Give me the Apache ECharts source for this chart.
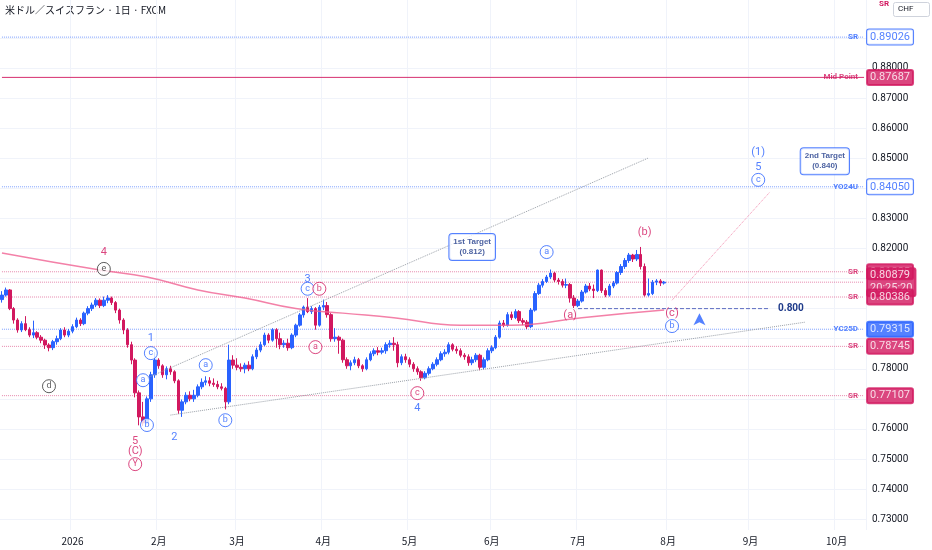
<!DOCTYPE html>
<html>
<head>
<meta charset="utf-8">
<script src="https://cdn.jsdelivr.net/npm/echarts@6/dist/echarts.min.js"></script>
<style>
  html, body { margin: 0; padding: 0; background: #fff; }
  #demo { width: 932px; height: 550px; }
</style>
</head>
<body>
<div id="demo"></div>
<script>
// 日足 [open, close, low, high]  2025-12-08 から
var candles = [
  [0.8030,0.8045,0.8020,0.8058],[0.8045,0.8062,0.8040,0.8070],[0.8062,0.8000,0.7995,0.8065],[0.8000,0.7962,0.7950,0.8005],
  [0.7962,0.7929,0.7920,0.7968],[0.7929,0.7950,0.7922,0.7958],[0.7950,0.7930,0.7925,0.7975],[0.7930,0.7912,0.7905,0.7938],
  [0.7912,0.7920,0.7902,0.7960],[0.7920,0.7905,0.7898,0.7925],[0.7905,0.7895,0.7885,0.7912],[0.7895,0.7879,0.7866,0.7900],
  [0.7879,0.7870,0.7858,0.7885],[0.7870,0.7890,0.7862,0.7896],[0.7890,0.7900,0.7880,0.7910],[0.7900,0.7929,0.7895,0.7935],
  [0.7929,0.7912,0.7905,0.7938],
  // 1月
  [0.7912,0.7925,0.7905,0.7932],[0.7925,0.7940,0.7918,0.7948],[0.7940,0.7962,0.7935,0.7970],[0.7962,0.7950,0.7942,0.7968],
  [0.7950,0.7985,0.7945,0.7990],[0.7985,0.8000,0.7978,0.8008],[0.8000,0.8012,0.7992,0.8020],[0.8012,0.8028,0.8005,0.8035],
  [0.8028,0.8010,0.8002,0.8034],[0.8010,0.8028,0.8005,0.8040],[0.8028,0.8035,0.8018,0.8045],[0.8035,0.8020,0.8012,0.8040],
  [0.8020,0.7995,0.7985,0.8025],[0.7995,0.7962,0.7950,0.8000],[0.7962,0.7929,0.7915,0.7968],[0.7929,0.7880,0.7870,0.7935],
  [0.7880,0.7829,0.7815,0.7890],[0.7829,0.7720,0.7705,0.7835],[0.7720,0.7640,0.7612,0.7728],[0.7640,0.7620,0.7610,0.7690],
  [0.7620,0.7700,0.7615,0.7708],[0.7700,0.7780,0.7690,0.7790],
  // 2月
  [0.7780,0.7829,0.7770,0.7855],[0.7829,0.7810,0.7800,0.7835],[0.7810,0.7780,0.7770,0.7815],[0.7780,0.7800,0.7765,0.7808],
  [0.7800,0.7790,0.7780,0.7810],[0.7790,0.7760,0.7752,0.7795],[0.7760,0.7662,0.7650,0.7765],[0.7662,0.7690,0.7640,0.7698],
  [0.7690,0.7712,0.7682,0.7722],[0.7712,0.7700,0.7692,0.7725],[0.7700,0.7712,0.7690,0.7730],[0.7712,0.7740,0.7705,0.7748],
  [0.7740,0.7755,0.7732,0.7768],[0.7755,0.7760,0.7745,0.7775],[0.7760,0.7752,0.7742,0.7772],[0.7752,0.7748,0.7740,0.7768],
  [0.7748,0.7740,0.7732,0.7760],[0.7740,0.7735,0.7728,0.7752],[0.7735,0.7690,0.7665,0.7740],[0.7690,0.7829,0.7682,0.7880],
  // 3月
  [0.7829,0.7812,0.7800,0.7845],[0.7812,0.7805,0.7795,0.7835],[0.7805,0.7800,0.7790,0.7818],[0.7800,0.7812,0.7785,0.7820],
  [0.7812,0.7800,0.7792,0.7825],[0.7800,0.7840,0.7795,0.7848],[0.7840,0.7862,0.7832,0.7870],[0.7862,0.7880,0.7855,0.7890],
  [0.7880,0.7912,0.7875,0.7920],[0.7912,0.7895,0.7885,0.7918],[0.7895,0.7930,0.7890,0.7935],[0.7930,0.7900,0.7870,0.7935],
  [0.7900,0.7880,0.7865,0.7920],[0.7880,0.7885,0.7870,0.7895],[0.7885,0.7870,0.7860,0.7900],[0.7870,0.7912,0.7865,0.7918],
  [0.7912,0.7945,0.7905,0.7950],[0.7945,0.7979,0.7940,0.7985],[0.7979,0.8005,0.7970,0.8010],[0.8005,0.7990,0.7985,0.8035],
  [0.7990,0.8000,0.7982,0.8008],[0.8000,0.7945,0.7930,0.8005],
  // 4月
  [0.7945,0.8005,0.7940,0.8012],[0.8005,0.8010,0.7995,0.8030],[0.8010,0.7980,0.7970,0.8022],[0.7980,0.7900,0.7890,0.7985],
  [0.7900,0.7905,0.7890,0.7935],[0.7905,0.7895,0.7850,0.7910],[0.7895,0.7830,0.7820,0.7900],[0.7830,0.7810,0.7800,0.7838],
  [0.7810,0.7820,0.7795,0.7828],[0.7820,0.7830,0.7812,0.7840],[0.7830,0.7810,0.7802,0.7836],[0.7810,0.7800,0.7790,0.7815],
  [0.7800,0.7830,0.7795,0.7838],[0.7830,0.7850,0.7825,0.7858],[0.7850,0.7860,0.7842,0.7868],[0.7860,0.7855,0.7845,0.7872],
  [0.7855,0.7860,0.7848,0.7870],[0.7860,0.7880,0.7850,0.7888],[0.7880,0.7885,0.7870,0.7895],[0.7885,0.7880,0.7860,0.7905],
  [0.7880,0.7820,0.7805,0.7890],[0.7820,0.7840,0.7812,0.7848],
  // 5月
  [0.7840,0.7830,0.7820,0.7850],[0.7830,0.7815,0.7805,0.7838],[0.7815,0.7800,0.7790,0.7822],[0.7800,0.7790,0.7780,0.7808],
  [0.7790,0.7770,0.7760,0.7795],[0.7770,0.7785,0.7765,0.7792],[0.7785,0.7800,0.7778,0.7808],[0.7800,0.7815,0.7795,0.7822],
  [0.7815,0.7830,0.7808,0.7838],[0.7830,0.7850,0.7825,0.7858],[0.7850,0.7855,0.7840,0.7865],[0.7855,0.7880,0.7848,0.7888],
  [0.7880,0.7865,0.7858,0.7885],[0.7865,0.7860,0.7850,0.7875],[0.7860,0.7845,0.7838,0.7868],[0.7845,0.7840,0.7830,0.7852],
  [0.7840,0.7820,0.7810,0.7848],[0.7820,0.7830,0.7812,0.7840],[0.7830,0.7845,0.7822,0.7852],[0.7845,0.7805,0.7795,0.7850],
  [0.7805,0.7830,0.7798,0.7838],
  // 6月
  [0.7830,0.7860,0.7825,0.7868],[0.7860,0.7870,0.7852,0.7878],[0.7870,0.7905,0.7865,0.7912],[0.7905,0.7952,0.7900,0.7960],
  [0.7952,0.7945,0.7938,0.7962],[0.7945,0.7980,0.7940,0.7988],[0.7980,0.7970,0.7962,0.7990],[0.7970,0.7990,0.7965,0.7998],
  [0.7990,0.7960,0.7952,0.7995],[0.7960,0.7955,0.7945,0.7968],[0.7955,0.7940,0.7932,0.7962],[0.7940,0.7995,0.7935,0.8002],
  [0.7995,0.8050,0.7990,0.8058],[0.8050,0.8078,0.8045,0.8085],[0.8078,0.8090,0.8070,0.8098],[0.8090,0.8105,0.8085,0.8112],
  [0.8105,0.8118,0.8098,0.8130],[0.8118,0.8095,0.8088,0.8122],[0.8095,0.8090,0.8080,0.8102],[0.8090,0.8078,0.8070,0.8098],
  [0.8078,0.8080,0.8068,0.8100],[0.8080,0.8035,0.8020,0.8085],
  // 7月
  [0.8035,0.8010,0.8002,0.8045],[0.8010,0.8025,0.8005,0.8032],[0.8025,0.8055,0.8020,0.8062],[0.8055,0.8075,0.8050,0.8082],
  [0.8075,0.8065,0.8058,0.8085],[0.8065,0.8060,0.8035,0.8080],[0.8060,0.8128,0.8055,0.8130],[0.8128,0.8060,0.8052,0.8130],
  [0.8060,0.8045,0.8038,0.8068],[0.8045,0.8075,0.8040,0.8082],[0.8075,0.8085,0.8068,0.8092],[0.8085,0.8120,0.8080,0.8125],
  [0.8120,0.8140,0.8112,0.8148],[0.8140,0.8160,0.8132,0.8168],[0.8160,0.8178,0.8152,0.8185],[0.8178,0.8165,0.8155,0.8182],
  [0.8165,0.8180,0.8158,0.8195],[0.8180,0.8140,0.8130,0.8205],[0.8140,0.8045,0.8040,0.8150],[0.8045,0.8050,0.8040,0.8100],
  [0.8050,0.8088,0.8045,0.8095],[0.8088,0.8092,0.8078,0.8098],[0.8092,0.8085,0.8075,0.8098],
  // 8月
  [0.8085,0.8088,0.8080,0.8092]
];

// 200日移動平均 (読み取り点)
var maIdx = [0, 25, 37, 50, 62, 75, 87, 100, 117, 130, 148, 169];
var maVal = [0.8185, 0.8128, 0.8105, 0.8062, 0.8035, 0.8000, 0.7985, 0.7970, 0.7945, 0.7945, 0.7970, 0.7995];

// 水平ライン
var levelVal   = [0.89026, 0.87687, 0.84050, 0.81225, 0.80879, 0.80386, 0.79315, 0.78745, 0.77107];
var levelName  = ['SR', 'Mid Point', 'YO24U', 'SR', '', 'SR', 'YC25D', 'SR', 'SR'];
var levelKind  = ['blueOutline', 'mid', 'blueOutline', 'red', 'price', 'red', 'blue', 'red', 'red'];
var tagShift   = [0, 0, 0, 0, 5, 7, 0, 0, 0];

// 価格軸の目盛り
var yTicks = [0.73, 0.74, 0.75, 0.76, 0.77, 0.78, 0.79, 0.80, 0.81, 0.82, 0.83, 0.84, 0.85, 0.86, 0.87, 0.88, 0.89];
var yTicksHidden = ['0.89000', '0.84000', '0.81000', '0.80000', '0.79000', '0.77000'];

// 波動ラベル
var waveIdx    = [26, 26, 12, 38, 38, 36, 37, 34, 34, 34, 44, 52, 57, 78, 78, 81, 80, 106, 106, 139, 145, 164, 171, 171, 193, 193, 193];
var waveVal    = [0.8188, 0.8132, 0.7742, 0.7902, 0.7852, 0.7762, 0.7613, 0.7560, 0.7527, 0.7483, 0.7573, 0.7812, 0.7629,
                  0.8098, 0.8066, 0.8066, 0.7872, 0.7719, 0.7669, 0.8188, 0.7979, 0.8255, 0.7985, 0.7942, 0.8521, 0.8471, 0.8428];
var waveText   = ['4', 'e', 'd', '1', 'c', 'a', 'b', '5', '(C)', 'Y', '2', 'a', 'b', '3', 'c', 'b', 'a', 'c', '4', 'a', '(a)', '(b)', '(c)', 'b', '(1)', '5', 'c'];
var waveColor  = ['r', 'k', 'k', 'b', 'b', 'b', 'b', 'r', 'r', 'r', 'b', 'b', 'b', 'b', 'b', 'r', 'r', 'r', 'b', 'b', 'r', 'r', 'r', 'b', 'b', 'b', 'b'];
var waveCircle = [0, 1, 1, 0, 1, 1, 1, 0, 0, 1, 0, 1, 1, 0, 1, 1, 1, 1, 0, 1, 0, 0, 0, 1, 0, 0, 1];

// ターゲット
var targetIdx  = [120, 210];
var targetVal  = [0.8205, 0.8490];
var targetText = ['1st Target\n(0.812)', '2nd Target\n(0.840)'];

// トレンドライン
var channelUpper = [[37, 0.7769], [165, 0.8501]];
var channelLower = [[43, 0.7646], [205, 0.7955]];
var projection   = [[171, 0.8028], [196, 0.8388]];
var level800     = [[147, 0.8000], [196, 0.8000]];

var RED = '#d2185f', BLUE = '#2962ff', BLACK = '#333';
var colorOf = { r: RED, b: BLUE, k: BLACK };

// 平日カテゴリ
var dates = [];
var d = new Date(2025, 11, 8);
while (dates.length < 221) {
  var wd = d.getDay();
  if (wd !== 0 && wd !== 6) {
    dates.push(d.getFullYear() + '-' + (d.getMonth() + 1) + '-' + d.getDate());
  }
  d.setDate(d.getDate() + 1);
}
var lastIdx = dates.length - 1;
function monthStart(i) {
  if (i === 0) return false;
  return dates[i].split('-')[1] !== dates[i - 1].split('-')[1];
}

function lineColor(kind) {
  if (kind === 'blue' || kind === 'blueOutline') return 'rgba(41,98,255,0.6)';
  if (kind === 'mid') return 'rgba(210,24,95,0.9)';
  return 'rgba(210,24,95,0.5)';
}

// 水平ライン (line series) とタグ (scatter ラベル)
var levelSeries = [];
var tagData = [];
levelVal.forEach(function (v, i) {
  var kind = levelKind[i];
  var c = (kind === 'blue' || kind === 'blueOutline') ? BLUE : RED;
  levelSeries.push({
    type: 'line', data: [[0, v], [lastIdx, v]], showSymbol: false, silent: true, z: 1,
    lineStyle: { color: lineColor(kind), type: kind === 'mid' ? 'solid' : 'dotted', width: 1 }
  });
  var tag = {
    show: true, position: 'right', distance: 3, formatter: v.toFixed(5),
    color: kind === 'blueOutline' ? BLUE : '#fff',
    backgroundColor: kind === 'blueOutline' ? '#fff' : c,
    borderColor: c, borderWidth: 1, borderRadius: 2,
    padding: [2, 3], fontSize: 11, fontFamily: 'Roboto',
    offset: [0, tagShift[i]]
  };
  if (kind === 'price') {
    tag.formatter = v.toFixed(5) + '\n20:25:20';
    tag.lineHeight = 13;
    tag.padding = [1, 3];
  }
  tagData.push({ value: [lastIdx, v], label: tag });
  if (levelName[i]) {
    tagData.push({
      value: [lastIdx, v],
      label: { show: true, position: 'left', distance: 6, formatter: levelName[i], color: c, fontSize: 8, fontWeight: 'bold', fontFamily: 'Roboto' }
    });
  }
});

var waveData = waveText.map(function (t, i) {
  var c = colorOf[waveColor[i]];
  return {
    value: [waveIdx[i], waveVal[i]],
    symbolSize: waveCircle[i] ? 13 : 0,
    itemStyle: { color: '#fff', borderColor: c, borderWidth: 1 },
    label: { show: true, position: 'inside', formatter: t, color: c, fontSize: waveCircle[i] ? 9 : 11, fontFamily: 'Roboto' }
  };
});

var targetData = targetText.map(function (t, i) {
  return {
    value: [targetIdx[i], targetVal[i]],
    label: { show: true, position: 'inside', formatter: t, color: '#1e3a8a', fontSize: 8, fontWeight: 'bold', lineHeight: 10,
      backgroundColor: '#fff', borderColor: BLUE, borderWidth: 1, borderRadius: 3, padding: [3, 4] }
  };
});

var chart = echarts.init(document.getElementById('demo'));
chart.setOption({
  animation: false,
  backgroundColor: '#fff',
  graphic: [
    { type: 'text', left: 5, top: 5, style: { text: '米ドル／スイスフラン · 1日 · FXCM', fill: '#131722', fontSize: 10, fontFamily: 'Noto Sans CJK JP' } },
    { type: 'rect', left: 893, top: 2, shape: { width: 36, height: 14, r: 2 }, style: { fill: '#fff', stroke: '#cfd3dc' } },
    { type: 'text', left: 898, top: 5, style: { text: 'CHF', fill: '#131722', fontSize: 8, fontFamily: 'Roboto' } },
    { type: 'text', left: 879, top: 0, style: { text: 'SR', fill: RED, fontSize: 8, fontWeight: 'bold', fontFamily: 'Roboto' } }
  ],
  grid: { left: 0, right: 66, top: 0, bottom: 20 },
  xAxis: {
    type: 'category',
    data: dates,
    boundaryGap: true,
    axisLine: { show: false },
    axisTick: { show: false },
    axisLabel: {
      margin: 6, color: '#131722', fontSize: 10, fontFamily: 'Noto Sans CJK JP',
      interval: function (i) { return monthStart(i); },
      formatter: function (v) {
        var p = v.split('-');
        return p[1] === '1' ? '2026' : p[1] + '月';
      }
    },
    splitLine: { show: true, interval: function (i) { return monthStart(i); }, lineStyle: { color: '#f0f3fa' } }
  },
  yAxis: {
    type: 'value',
    position: 'right',
    min: 0.7264, max: 0.9026,
    axisLine: { show: false },
    axisTick: { show: false, customValues: yTicks },
    splitLine: { lineStyle: { color: '#f0f3fa' } },
    axisLabel: {
      margin: 6, color: '#131722', fontSize: 10, fontFamily: 'Roboto',
      customValues: yTicks,
      formatter: function (v) {
        var s = v.toFixed(5);
        return yTicksHidden.indexOf(s) >= 0 ? '' : s;
      }
    }
  },
  series: levelSeries.concat([
    {
      type: 'candlestick',
      data: candles.map(function (r) { return [r[0], r[1], r[2], r[3]]; }),
      barWidth: 3,
      itemStyle: { color: BLUE, color0: RED, borderColor: BLUE, borderColor0: RED, borderWidth: 1 }
    },
    {
      type: 'line',
      data: maIdx.map(function (x, i) { return [x, maVal[i]]; }),
      smooth: true, showSymbol: false,
      lineStyle: { color: '#f06292', width: 1.5, opacity: 0.8 }
    },
    { type: 'line', data: channelUpper, showSymbol: false, lineStyle: { color: '#9aa0a8', width: 1, type: 'dotted' } },
    { type: 'line', data: channelLower, showSymbol: false, lineStyle: { color: '#9aa0a8', width: 1, type: 'dotted' } },
    { type: 'line', data: projection, showSymbol: false, lineStyle: { color: '#f48fb1', width: 1, type: 'dotted' } },
    {
      type: 'line', data: level800, showSymbol: false,
      lineStyle: { color: '#5c6bc0', width: 1, type: 'dashed' },
      endLabel: { show: true, formatter: '0.800', color: '#1e3a8a', fontSize: 10, fontWeight: 'bold', fontFamily: 'Roboto' }
    },
    { type: 'scatter', data: tagData, symbolSize: 0, z: 7, labelLayout: { hideOverlap: false } },
    { type: 'scatter', data: waveData, z: 5 },
    { type: 'scatter', data: targetData, symbolSize: 0, z: 6 },
    {
      type: 'scatter', data: [[178, 0.7985]], symbol: 'arrow', symbolSize: [9, 12],
      itemStyle: { color: BLUE }
    }
  ])
});
</script>
</body>
</html>
